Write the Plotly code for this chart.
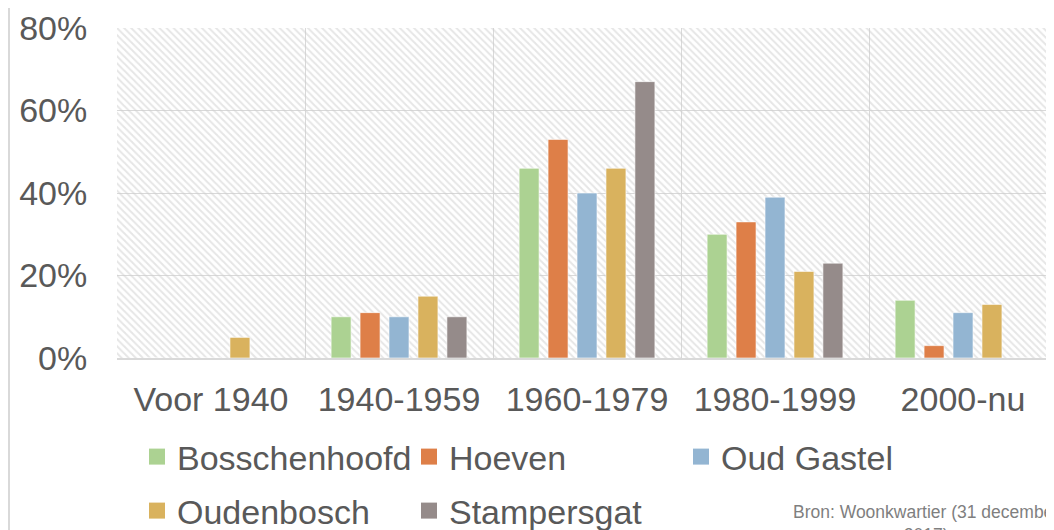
import plotly.graph_objects as go

categories = ['Voor 1940', '1940-1959', '1960-1979', '1980-1999', '2000-nu']
bosschenhoofd = [0, 10, 46, 30, 14]
hoeven = [0, 11, 53, 33, 3]
oud_gastel = [0, 10, 40, 39, 11]
oudenbosch = [5, 15, 46, 21, 13]
stampersgat = [0, 10, 67, 23, 0]

series = [
    ('Bosschenhoofd', bosschenhoofd, '#acd292', 'legend'),
    ('Hoeven', hoeven, '#de7f48', 'legend'),
    ('Oud Gastel', oud_gastel, '#93b5d2', 'legend'),
    ('Oudenbosch', oudenbosch, '#d9b25e', 'legend2'),
    ('Stampersgat', stampersgat, '#958b8a', 'legend2'),
]

# page body adds an 8px margin, so the figure is 8px smaller and everything is placed in screen pixels
W, H = 1046, 522
L, T, B = 109, 20, 172
def px(p): return (p - 117) / 937
def py(p): return (358 - p) / 330

xr = [-0.5, 4.484]
font = 'Liberation Sans, Arial, sans-serif'
grey = '#595959'
grid = '#d9d9d9'

fig = go.Figure()

# hatched plot background (base subplot, under the bars)
fig.add_trace(go.Bar(x=[2], y=[80], width=[5], xaxis='x', yaxis='y',
                     marker=dict(color='rgba(0,0,0,0)', line_width=0,
                                 pattern=dict(shape='\\', fgcolor='#cdcdcd', size=5, solidity=0.4)),
                     hoverinfo='skip', showlegend=False))

for name, vals, col, leg in series:
    fig.add_trace(go.Bar(x=categories, y=vals, name=name, xaxis='x2', yaxis='y',
                         marker=dict(color=col, line=dict(color='rgba(255,255,255,0.6)', width=1)),
                         showlegend=False))
    fig.add_trace(go.Scatter(x=[None], y=[None], name=name, mode='markers', xaxis='x2', yaxis='y',
                             legend=leg, marker=dict(symbol='square', size=16, color=col)))

legend_style = dict(orientation='h', xanchor='left', yanchor='top', entrywidth=227,
                    entrywidthmode='pixels', font=dict(size=34, color=grey),
                    bgcolor='rgba(0,0,0,0)')

fig.update_layout(
    width=W, height=H,
    margin=dict(l=L, r=0, t=T, b=B, autoexpand=False),
    paper_bgcolor='white', plot_bgcolor='white',
    font=dict(family=font, color=grey, size=34),
    barmode='group', bargap=0.23, bargroupgap=0.31,
    xaxis=dict(range=xr, tickvals=[-0.5, 0.5, 1.5, 2.5, 3.5, 4.5], showticklabels=False,
               showgrid=True, gridcolor=grid, gridwidth=1, zeroline=False, fixedrange=True),
    xaxis2=dict(overlaying='x', range=xr, type='category', showgrid=False, side='bottom',
                showline=True, linecolor=grid, linewidth=2,
                ticks='outside', ticklen=10, tickcolor='rgba(0,0,0,0)',
                tickfont=dict(size=34, color=grey)),
    yaxis=dict(range=[0, 80], dtick=20, ticksuffix='%', showgrid=True, gridcolor=grid, gridwidth=1,
               zeroline=False, ticks='outside', ticklen=22, tickcolor='rgba(0,0,0,0)',
               tickfont=dict(size=34, color=grey)),
    legend=dict(x=px(137), y=py(428), **legend_style),
    legend2=dict(x=px(137), y=py(482), **legend_style),
    annotations=[dict(text='Bron: Woonkwartier (31 december<br>2017)', xref='paper', yref='paper',
                      x=px(926), y=py(500), xanchor='center', yanchor='top', showarrow=False,
                      align='center', font=dict(size=17.5, color='#7f7f7f'))],
    shapes=[dict(type='line', xref='paper', yref='paper', x0=px(9), x1=px(9), y0=py(0), y1=py(540),
                 line=dict(color=grid, width=2))],
)

fig.write_html('out.html')
